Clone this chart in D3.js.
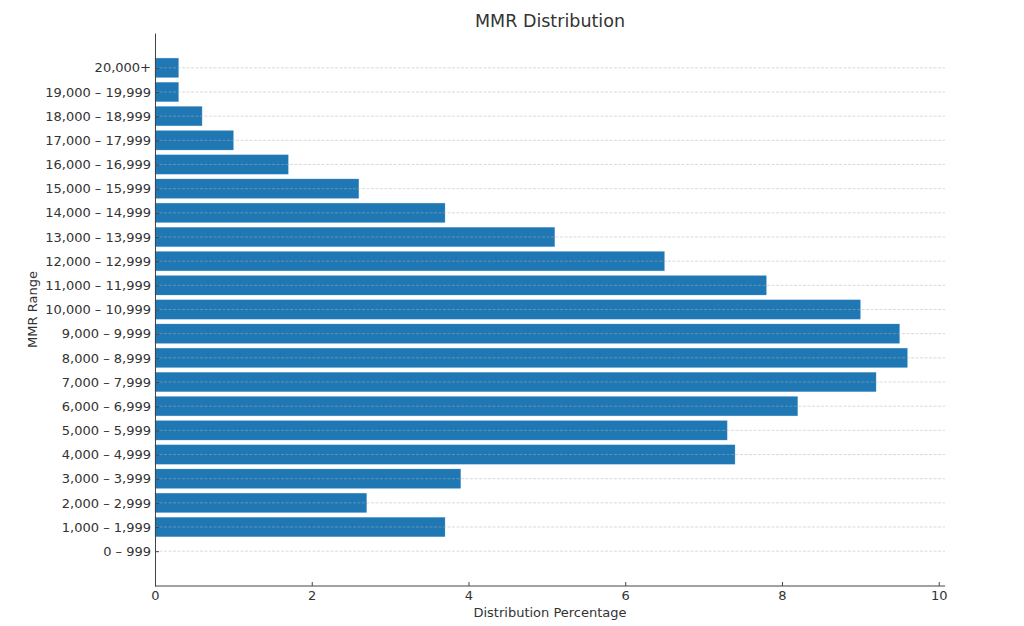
<!DOCTYPE html>
<html>
<head>
<meta charset="utf-8">
<script src="https://cdn.jsdelivr.net/npm/d3@7.9.0/dist/d3.min.js"></script>
<style>
  body { margin: 0; background: #fff; }
  svg, svg text { font-family: "DejaVu Sans", sans-serif; }
</style>
</head>
<body>
<svg width="1024" height="626"></svg>
<script>
// MMR brackets, bottom to top
const ranges = [
  "0 – 999", "1,000 – 1,999", "2,000 – 2,999", "3,000 – 3,999", "4,000 – 4,999",
  "5,000 – 5,999", "6,000 – 6,999", "7,000 – 7,999", "8,000 – 8,999", "9,000 – 9,999",
  "10,000 – 10,999", "11,000 – 11,999", "12,000 – 12,999", "13,000 – 13,999",
  "14,000 – 14,999", "15,000 – 15,999", "16,000 – 16,999", "17,000 – 17,999",
  "18,000 – 18,999", "19,000 – 19,999", "20,000+"
];
const percentages = [
  0, 3.7, 2.7, 3.9, 7.4,
  7.3, 8.2, 9.2, 9.6, 9.5,
  9.0, 7.8, 6.5, 5.1,
  3.7, 2.6, 1.7, 1.0,
  0.6, 0.3, 0.3
];
const xTicks = [0, 2, 4, 6, 8, 10];

const margin = { left: 155, right: 79, top: 33, bottom: 40 };
const width = 1024, height = 626;
const svg = d3.select("svg");

const xMax = d3.max(percentages) * 1.05;
const x = d3.scaleLinear().domain([0, xMax]).range([margin.left, width - margin.right]);
const barH = 0.8;
const pad = (ranges.length - 1 + barH) * 0.05;
const y = d3.scaleLinear()
  .domain([-barH / 2 - pad, ranges.length - 1 + barH / 2 + pad])
  .range([height - margin.bottom, margin.top]);

const textColor = "#333";
const axisColor = "#444";
const font = "DejaVu Sans, sans-serif";

// bars
svg.append("g").selectAll("rect")
  .data(percentages)
  .join("rect")
  .attr("x", x(0))
  .attr("y", (d, i) => y(i + barH / 2))
  .attr("width", d => x(d) - x(0))
  .attr("height", y(0) - y(barH))
  .attr("fill", "#1f77b4")
  .attr("stroke", "#5a9bd0")
  .attr("stroke-width", 0.5)
  .attr("stroke-opacity", 0.6);

// horizontal grid, on top of bars
svg.append("g").selectAll("line")
  .data(ranges)
  .join("line")
  .attr("x1", x(0))
  .attr("x2", x(xMax))
  .attr("y1", (d, i) => y(i))
  .attr("y2", (d, i) => y(i))
  .attr("stroke", "#b0b0b0")
  .attr("stroke-opacity", 0.6)
  .attr("stroke-width", 0.8)
  .attr("stroke-dasharray", "3,1.5");

// x axis
const xAxis = d3.axisBottom(x).tickValues(xTicks).tickFormat(d3.format("d"))
  .tickSizeInner(-4).tickSizeOuter(0).tickPadding(5);
const gx = svg.append("g")
  .attr("transform", `translate(0,${height - margin.bottom})`)
  .call(xAxis)
  .attr("font-family", font)
  .attr("font-size", 13);
gx.select(".domain").attr("stroke", axisColor).attr("d", `M${x(0)},0H${x(xMax)}`);
gx.selectAll(".tick line").attr("stroke", axisColor);
gx.selectAll(".tick text").attr("fill", textColor);

// y axis
const yAxis = d3.axisLeft(y).tickValues(d3.range(ranges.length))
  .tickFormat(i => ranges[i]).tickSizeInner(-4).tickSizeOuter(0).tickPadding(4);
const gy = svg.append("g")
  .attr("transform", `translate(${margin.left},0)`)
  .call(yAxis)
  .attr("font-family", font)
  .attr("font-size", 13);
gy.select(".domain").attr("stroke", axisColor);
gy.selectAll(".tick line").attr("stroke", axisColor);
gy.selectAll(".tick text").attr("fill", textColor);

// labels
svg.append("text")
  .attr("x", (x(0) + x(xMax)) / 2)
  .attr("y", 27)
  .attr("text-anchor", "middle")
  .attr("font-size", 17.5)
  .attr("fill", textColor)
  .text("MMR Distribution");

svg.append("text")
  .attr("x", (x(0) + x(xMax)) / 2)
  .attr("y", 617)
  .attr("text-anchor", "middle")
  .attr("font-size", 13)
  .attr("fill", textColor)
  .text("Distribution Percentage");

svg.append("text")
  .attr("transform", `translate(37,${(y.range()[0] + y.range()[1]) / 2}) rotate(-90)`)
  .attr("text-anchor", "middle")
  .attr("font-size", 13)
  .attr("fill", textColor)
  .text("MMR Range");
</script>
</body>
</html>
